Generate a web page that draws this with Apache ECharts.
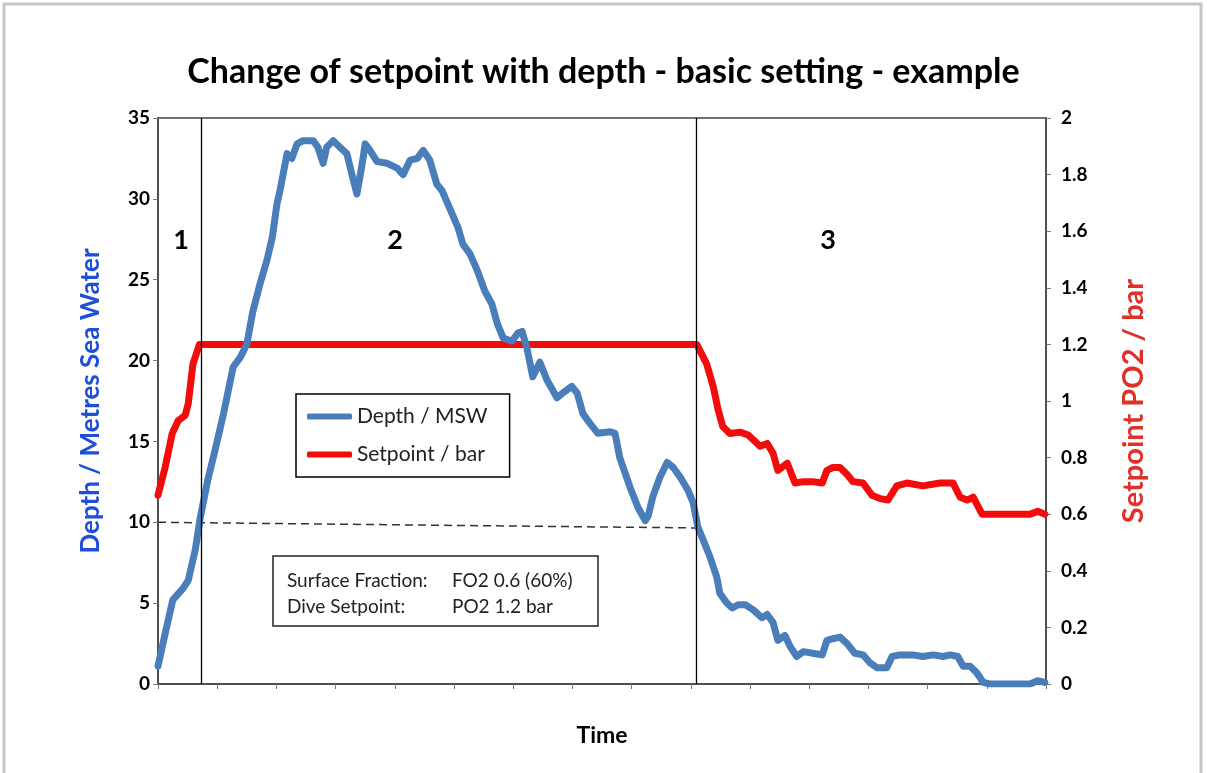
<!DOCTYPE html>
<html>
<head>
<meta charset="utf-8">
<title>Change of setpoint with depth</title>
<script src="https://cdn.jsdelivr.net/npm/echarts@6/dist/echarts.min.js"></script>
<style>
  html, body { margin: 0; padding: 0; background: #fff; }
  #main { width: 1207px; height: 773px; }
</style>
</head>
<body>
<div id="main"></div>
<script>
// depth profile (time in tick units, depth in metres)
var depthTime = [0.00, 0.12, 0.25, 0.42, 0.51, 0.63, 0.71, 0.84, 0.96, 1.10, 1.27, 1.39, 1.50, 1.60, 1.72, 1.84, 1.93, 2.01, 2.06, 2.18,
  2.26, 2.35, 2.45, 2.62, 2.70, 2.79, 2.85, 2.96, 3.07, 3.19, 3.29, 3.36, 3.45, 3.50, 3.58, 3.70, 3.87, 4.04, 4.14, 4.26,
  4.38, 4.48, 4.59, 4.71, 4.80, 4.93, 5.07, 5.15, 5.27, 5.39, 5.52, 5.64, 5.73, 5.83, 5.98, 6.08, 6.15, 6.23, 6.33, 6.45,
  6.57, 6.74, 6.84, 6.99, 7.08, 7.18, 7.30, 7.43, 7.64, 7.72, 7.80, 7.97, 8.11, 8.23, 8.28, 8.36, 8.48, 8.60, 8.70, 8.82,
  8.95, 9.04, 9.12, 9.21, 9.32, 9.44, 9.49, 9.61, 9.70, 9.80, 9.92, 10.05, 10.20, 10.29, 10.39, 10.47, 10.59, 10.68, 10.79, 10.90,
  11.06, 11.22, 11.30, 11.40, 11.52, 11.64, 11.77, 11.91, 12.03, 12.15, 12.31, 12.40, 12.53, 12.75, 12.92, 13.09, 13.26, 13.38, 13.51, 13.60,
  13.72, 13.83, 13.94, 14.05, 14.73, 14.86, 14.98];
var depthValues = [1.1, 3.1, 5.2, 5.9, 6.4, 8.3, 10.2, 12.6, 14.4, 16.6, 19.6, 20.2, 21.0, 23.0, 24.7, 26.2, 27.6, 29.7, 30.5, 32.8,
  32.5, 33.4, 33.6, 33.6, 33.2, 32.2, 33.2, 33.6, 33.2, 32.8, 31.3, 30.3, 32.2, 33.4, 33.0, 32.3, 32.2, 31.9, 31.5, 32.4,
  32.5, 33.0, 32.4, 30.9, 30.5, 29.4, 28.2, 27.2, 26.6, 25.6, 24.3, 23.5, 22.3, 21.4, 21.2, 21.7, 21.8, 20.8, 19.0, 19.9,
  18.8, 17.7, 18.0, 18.4, 18.0, 16.7, 16.1, 15.5, 15.6, 15.5, 14.0, 12.2, 10.9, 10.1, 10.4, 11.6, 12.8, 13.7, 13.4, 12.8,
  12.0, 11.2, 9.7, 8.9, 7.9, 6.6, 5.6, 5.0, 4.7, 4.9, 4.9, 4.6, 4.1, 4.3, 3.8, 2.7, 3.0, 2.3, 1.7, 2.0,
  1.9, 1.8, 2.7, 2.8, 2.9, 2.5, 1.9, 1.8, 1.3, 1.0, 1.0, 1.7, 1.8, 1.8, 1.7, 1.8, 1.7, 1.8, 1.7, 1.1,
  1.1, 0.7, 0.1, 0.0, 0.0, 0.2, 0.1];

// setpoint PO2 (bar)
var setTime = [0.00, 0.12, 0.24, 0.34, 0.46, 0.51, 0.59, 0.70, 9.10, 9.27, 9.38, 9.46, 9.54, 9.66, 9.83, 9.97, 10.17, 10.29, 10.39, 10.47,
  10.63, 10.76, 10.90, 11.06, 11.22, 11.30, 11.40, 11.52, 11.64, 11.74, 11.91, 12.06, 12.20, 12.33, 12.48, 12.65, 12.92, 13.21, 13.43, 13.55,
  13.67, 13.77, 13.92, 14.73, 14.86, 14.98];
var setValues = [0.667, 0.765, 0.885, 0.93, 0.95, 0.99, 1.13, 1.2, 1.2, 1.13, 1.05, 0.97, 0.91, 0.885, 0.89, 0.88, 0.84, 0.85, 0.815, 0.755,
  0.78, 0.71, 0.715, 0.715, 0.71, 0.755, 0.765, 0.765, 0.74, 0.715, 0.71, 0.667, 0.655, 0.65, 0.70, 0.71, 0.70, 0.71, 0.71, 0.66,
  0.65, 0.66, 0.60, 0.60, 0.61, 0.60];

// 10 m reference line and phase boundaries
var refTime = [0, 9.09];
var refDepth = [10, 9.65];
var phaseBounds = [0.73, 9.09];
var phaseLabels = ['1', '2', '3'];

function pairs(xs, ys) {
  var out = [];
  for (var i = 0; i < xs.length; i++) out.push([xs[i], ys[i]]);
  return out;
}

var font = 'Lato, "Open Sans", sans-serif';
var myChart = echarts.init(document.getElementById('main'));

var option = {
  backgroundColor: '#fff',
  animation: false,
  title: {
    text: 'Change of setpoint with depth - basic setting - example',
    left: 'center',
    top: 50,
    textStyle: { fontFamily: font, fontSize: 34, fontWeight: 'bold', color: '#000' }
  },
  legend: {
    data: ['Depth / MSW', 'Setpoint / bar'],
    orient: 'vertical',
    left: 296,
    top: 394,
    icon: 'roundRect',
    itemWidth: 45,
    itemHeight: 6,
    itemGap: 17,
    padding: [12, 22, 12, 11],
    borderColor: '#000',
    borderWidth: 1.5,
    backgroundColor: '#fff',
    textStyle: { fontFamily: font, fontSize: 21, color: '#222' }
  },
  grid: { left: 158, right: 161, top: 118, bottom: 89, show: true, borderColor: '#444', borderWidth: 1.5 },
  xAxis: {
    type: 'value',
    min: 0, max: 15, interval: 1,
    name: 'Time',
    nameLocation: 'middle',
    nameGap: 40,
    nameTextStyle: { fontFamily: font, fontSize: 23, fontWeight: 'bold', color: '#000' },
    axisLine: { lineStyle: { color: '#444', width: 1.5 } },
    axisTick: { show: true, length: 5, lineStyle: { color: '#777' } },
    axisLabel: { show: false },
    splitLine: { show: false }
  },
  yAxis: [{
    type: 'value',
    min: 0, max: 35, interval: 5,
    name: 'Depth / Metres Sea Water',
    nameLocation: 'middle',
    nameGap: 54,
    nameTextStyle: { fontFamily: font, fontSize: 26, fontWeight: 'bold', color: '#1f4fd8' },
    axisLine: { show: true, lineStyle: { color: '#444', width: 1.5 } },
    axisTick: { show: true, length: 5, lineStyle: { color: '#777' } },
    axisLabel: { margin: 8, fontFamily: font, fontSize: 19, fontWeight: 'bold', color: '#000' },
    splitLine: { show: false }
  }, {
    type: 'value',
    position: 'right',
    min: 0, max: 2, interval: 0.2,
    name: 'Setpoint PO2 / bar',
    nameLocation: 'middle',
    nameGap: 73,
    nameTextStyle: { fontFamily: font, fontSize: 29, fontWeight: 'bold', color: '#e0302a' },
    axisLine: { show: true, lineStyle: { color: '#444', width: 1.5 } },
    axisTick: { show: true, length: 5, lineStyle: { color: '#777' } },
    axisLabel: { margin: 15, fontFamily: font, fontSize: 19, fontWeight: 'bold', color: '#000' },
    splitLine: { show: false }
  }],
  series: [{
    name: '10 m',
    type: 'line',
    yAxisIndex: 0,
    data: pairs(refTime, refDepth),
    symbol: 'none',
    silent: true,
    lineStyle: { color: '#333', width: 1.5, type: [8, 5] },
    markLine: {
      silent: true,
      symbol: 'none',
      label: { show: false },
      lineStyle: { color: '#000', width: 1.3, type: 'solid' },
      data: phaseBounds.map(function (t) { return { xAxis: t }; })
    },
    z: 1
  }, {
    name: 'Depth / MSW',
    type: 'line',
    yAxisIndex: 0,
    data: pairs(depthTime, depthValues),
    symbol: 'none',
    color: '#4a7ebb',
    lineStyle: { color: '#4a7ebb', width: 7, join: 'round', cap: 'round' },
    z: 3
  }, {
    name: 'Setpoint / bar',
    type: 'line',
    yAxisIndex: 1,
    data: pairs(setTime, setValues),
    symbol: 'none',
    color: '#f20c0c',
    lineStyle: { color: '#f20c0c', width: 7, join: 'round', cap: 'round' },
    z: 2
  }],
  graphic: [
    // outer frame
    { type: 'rect', shape: { x: 4, y: 4, width: 1197, height: 780 }, style: { fill: 'none', stroke: '#c6c6c6', lineWidth: 3 }, silent: true },
    // phase numbers
    { type: 'text', x: 181, y: 240, style: { text: phaseLabels[0], font: 'bold 27px ' + font, fill: '#000', align: 'center', verticalAlign: 'middle' } },
    { type: 'text', x: 395, y: 240, style: { text: phaseLabels[1], font: 'bold 27px ' + font, fill: '#000', align: 'center', verticalAlign: 'middle' } },
    { type: 'text', x: 828, y: 240, style: { text: phaseLabels[2], font: 'bold 27px ' + font, fill: '#000', align: 'center', verticalAlign: 'middle' } },
    // info box
    { type: 'rect', shape: { x: 273, y: 556, width: 325, height: 70 }, style: { fill: '#fff', stroke: '#222', lineWidth: 1.5 }, z: 10 },
    { type: 'text', x: 287, y: 581, z: 11, style: { text: 'Surface Fraction:', font: '19px ' + font, fill: '#222', verticalAlign: 'middle' } },
    { type: 'text', x: 452, y: 581, z: 11, style: { text: 'FO2 0.6 (60%)', font: '19px ' + font, fill: '#222', verticalAlign: 'middle' } },
    { type: 'text', x: 287, y: 607, z: 11, style: { text: 'Dive Setpoint:', font: '19px ' + font, fill: '#222', verticalAlign: 'middle' } },
    { type: 'text', x: 452, y: 607, z: 11, style: { text: 'PO2 1.2 bar', font: '19px ' + font, fill: '#222', verticalAlign: 'middle' } }
  ]
};

myChart.setOption(option);
</script>
</body>
</html>
